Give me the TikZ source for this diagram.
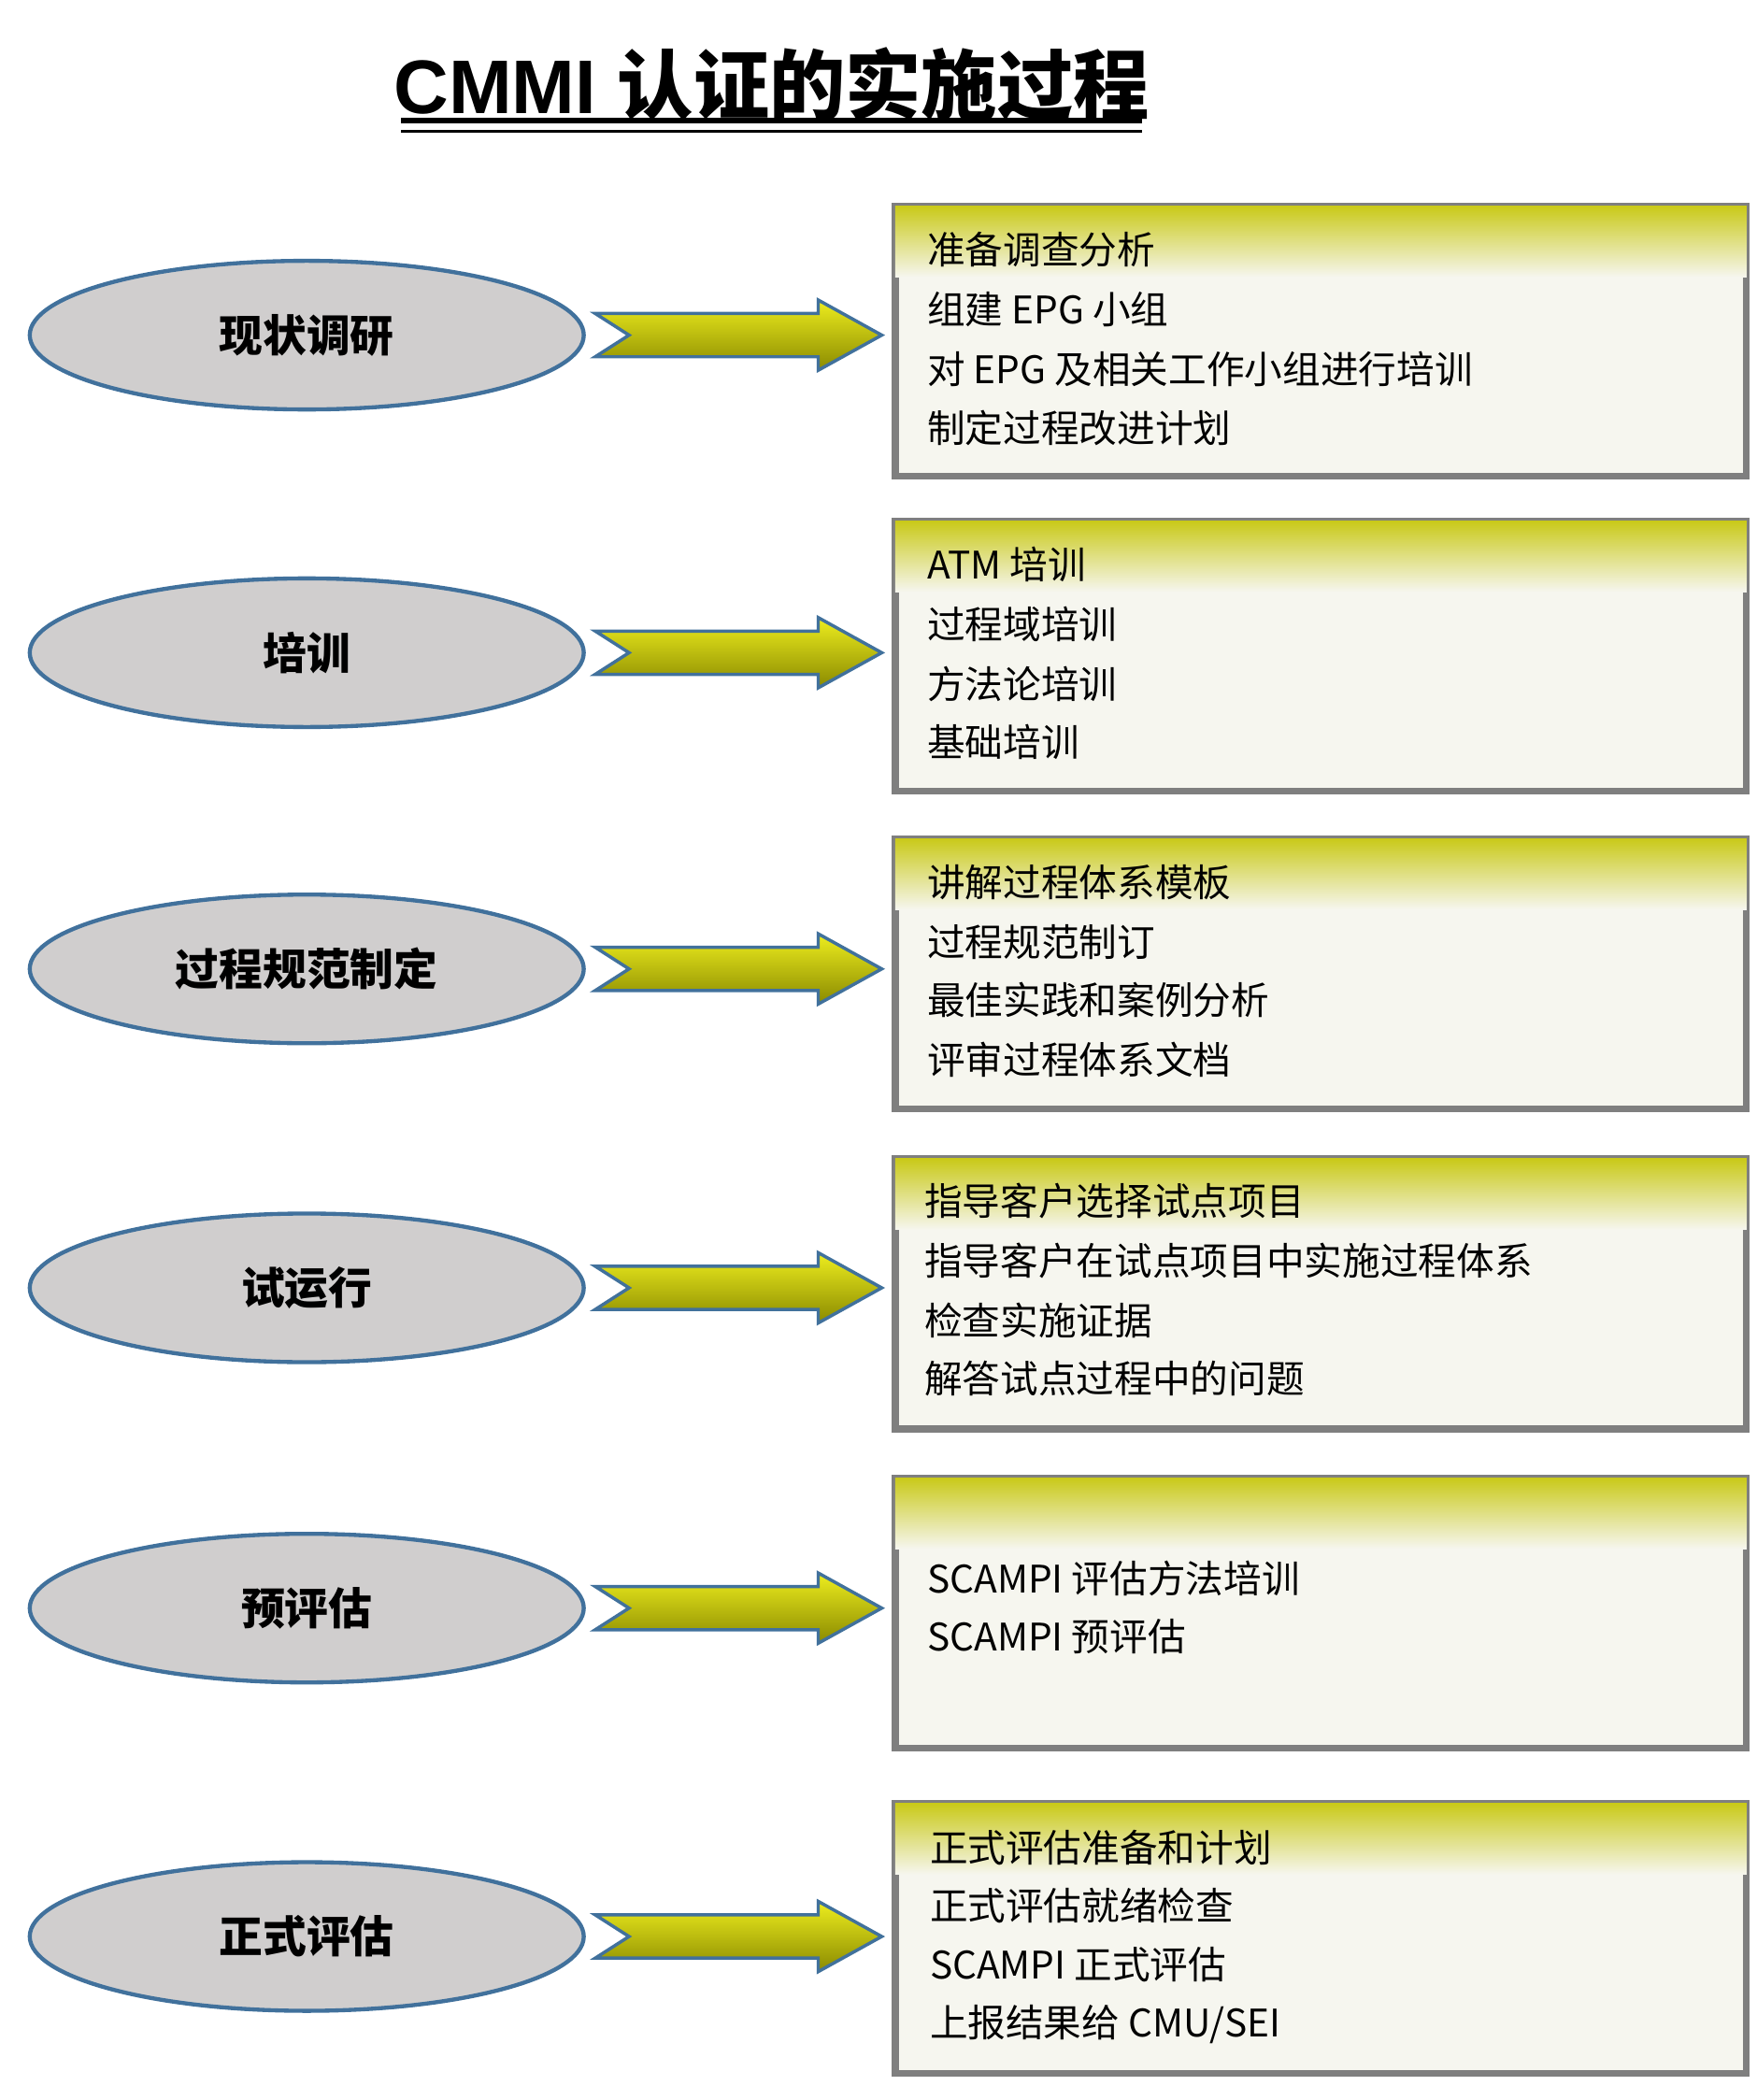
\documentclass[tikz,border=0pt]{standalone}
\usepackage{fontspec}
\setmainfont{Liberation Sans}
\newfontfamily\cjk{Noto Sans CJK SC}
\usetikzlibrary{calc,shapes.geometric}
\definecolor{ellfill}{HTML}{D0CECE}
\definecolor{ellline}{HTML}{41719C}
\definecolor{boxline}{HTML}{7F7F7F}
\definecolor{boxfill}{HTML}{F6F6EF}
\definecolor{ytop}{HTML}{EDED1E}
\definecolor{ybot}{HTML}{8A8A00}
\tikzset{
 stageell/.style={ellipse, draw=ellline, line width=0.15cm, fill=ellfill, minimum width=20.5cm, minimum height=5.5cm, font=\fontsize{46}{50}\selectfont\cjk\bfseries},
 stagebox/.style={draw=boxline, line width=0.25cm, fill=boxfill, minimum width=31.5cm, minimum height=10cm, anchor=north west},
 arrowshape/.style={draw=ellline, line width=0.12cm, top color=ytop, bottom color=ybot},
 item/.style={anchor=west, font=\fontsize{40}{46}\selectfont\cjk, inner sep=0pt}
}
\newcommand\stage[4]{%
 \node[stageell] (e#1) at (227,-#2) {#3};
 \node[stagebox] (b#1) at (660,-#4) {};
 \shade[top color=ytop!85!black, bottom color=boxfill] ($(b#1.north west)+(2.5,-2.5)$) rectangle ($(b#1.north east)+(-2.5,-55)$);
 \shadedraw[arrowshape] ($(e#1.east)+(7,16)$) -- ($(e#1.east)+(172,16)$) -- ($(e#1.east)+(172,26)$) -- ($(e#1.east)+(219,0)$) -- ($(e#1.east)+(172,-26)$) -- ($(e#1.east)+(172,-16)$) -- ($(e#1.east)+(7,-16)$) -- ($(e#1.east)+(32,0)$) -- cycle;
}
\begin{document}
\begin{tikzpicture}[x=0.05cm,y=0.05cm]
\useasboundingbox (0,0) rectangle (1300,-1554);
\node[font=\fontsize{80}{90}\selectfont\bfseries] (title) at (571,-62) {CMMI {\cjk 认证的实施过程}};
\draw[line width=0.2cm] (297,-89) coordinate (u1) -- (845,-89) coordinate (u2);
\draw[line width=0.12cm] (297,-97) coordinate (u3) -- (845,-97) coordinate (u4);
\stage{1}{248}{现状调研}{150}
\stage{2}{483}{培训}{383}
\stage{3}{717}{过程规范制定}{618}
\stage{4}{953}{试运行}{855}
\stage{5}{1190}{预评估}{1091}
\stage{6}{1433}{正式评估}{1332}
\node[item] (t11) at (686,-185) {准备调查分析};
\node[item] (t12) at (686,-229) {组建 EPG 小组};
\node[item] (t13) at (686,-273) {对 EPG 及相关工作小组进行培训};
\node[item] (t14) at (686,-317) {制定过程改进计划};
\node[item] (t21) at (686,-418) {ATM 培训};
\node[item] (t22) at (686,-462) {过程域培训};
\node[item] (t23) at (686,-506) {方法论培训};
\node[item] (t24) at (686,-549) {基础培训};
\node[item] (t31) at (686,-653) {讲解过程体系模板};
\node[item] (t32) at (686,-697) {过程规范制订};
\node[item] (t33) at (686,-740) {最佳实践和案例分析};
\node[item] (t34) at (686,-784) {评审过程体系文档};
\node[item] (t41) at (684,-889) {指导客户选择试点项目};
\node[item] (t42) at (684,-933) {指导客户在试点项目中实施过程体系};
\node[item] (t43) at (684,-977) {检查实施证据};
\node[item] (t44) at (684,-1020) {解答试点过程中的问题};
\node[item] (t51) at (686,-1168) {SCAMPI 评估方法培训};
\node[item] (t52) at (686,-1211) {SCAMPI 预评估};
\node[item] (t61) at (688,-1367) {正式评估准备和计划};
\node[item] (t62) at (688,-1410) {正式评估就绪检查};
\node[item] (t63) at (688,-1454) {SCAMPI 正式评估};
\node[item] (t64) at (688,-1498) {上报结果给 CMU/SEI};
\end{tikzpicture}
\end{document}
